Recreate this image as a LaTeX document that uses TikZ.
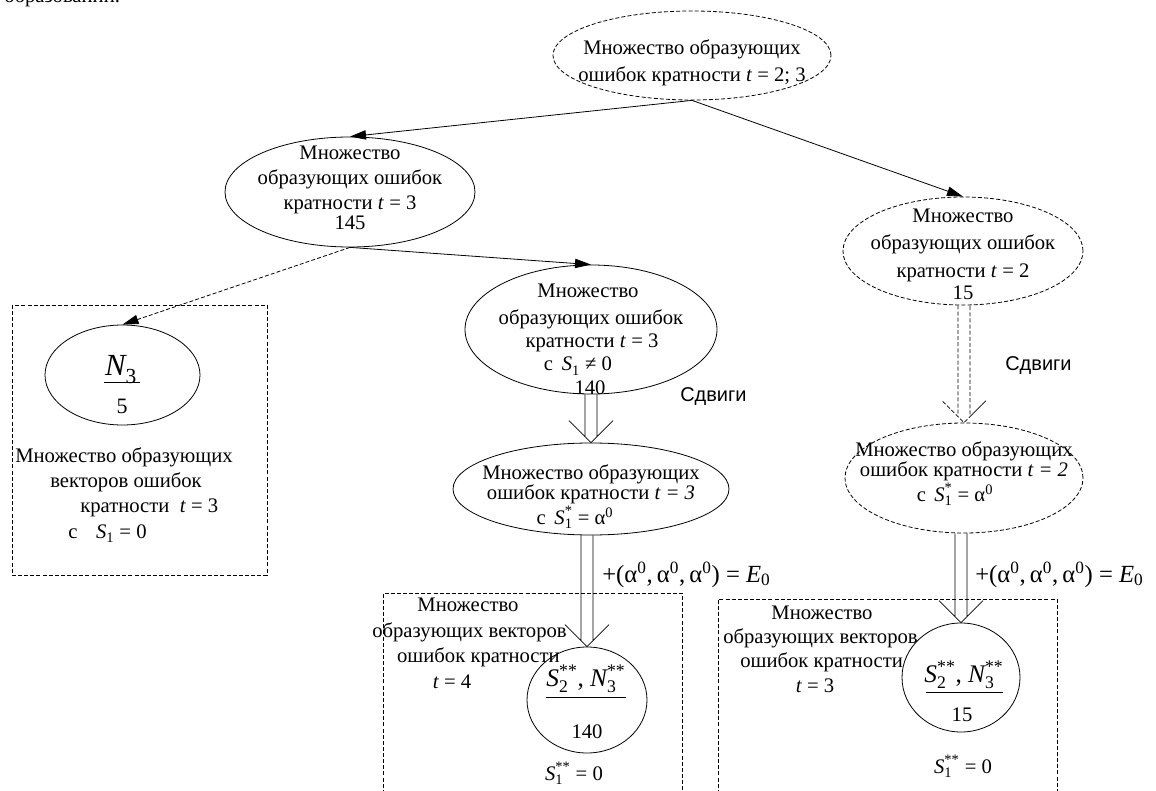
\documentclass[tikz,border=0pt]{standalone}
\usepackage{amsmath}
\usepackage{fontspec}
\setmainfont{Liberation Serif}
\setsansfont{Liberation Sans}
\usetikzlibrary{arrows.meta,calc,shapes.geometric}
\newcommand\Sym[3]{$\text{\itshape #1}_{\text{#2}}^{\text{#3}}$}
\newcommand\hollow[3][]{\draw[line width=0.6pt,#1] let \p1=(#2), \p2=(#3) in
  (\x2-4.5pt,\y1) -- (\x2-4.5pt,\y2+4.5pt) -- (\x2-16.5pt,\y2+16.5pt) -- (\x2,\y2)
  -- (\x2+16.5pt,\y2+16.5pt) -- (\x2+4.5pt,\y2+4.5pt) -- (\x2+4.5pt,\y1);}
\tikzset{
  ell/.style={ellipse, draw, inner sep=0pt, line width=0.6pt},
  dsh/.style={dash pattern=on 3pt off 1.6pt},
  txt/.style={anchor=base, inner sep=0pt, font=\fontsize{15.5}{18}\selectfont},
  txtw/.style={txt, anchor=base west},
  txte/.style={txt, anchor=base east},
  box/.style={draw, dsh, line width=0.6pt},
  conn/.style={-{Triangle[length=12pt,width=7pt]}, line width=0.6pt},
  sdv/.style={anchor=base west, inner sep=0pt, font=\sffamily\fontsize{15}{17}\selectfont},
  lbl/.style={anchor=base west, inner sep=0pt, font=\fontsize{18.5}{20}\selectfont},
  big/.style={anchor=base, inner sep=0pt, font=\fontsize{19}{21}\selectfont},
}
\begin{document}
\begin{tikzpicture}[x=0.75pt,y=-0.75pt]
\useasboundingbox (0,0) rectangle (1156,791);
% cut-off text at the top
\node[txtw] (top) at (4,3) {образований.};
% boxes
\draw[box] (12,305) rectangle (267,575);
\draw[box] (383,800) |- (682,593) -- (682,800);
\draw[box] (718,800) |- (1057,599) -- (1057,800);
% ellipses
\node[ell,dsh,minimum width=208.5pt,minimum height=66.75pt] (T) at (692,55.5) {};
\node[ell,minimum width=187.5pt,minimum height=82.5pt] (L) at (350,192) {};
\node[ell,dsh,minimum width=180pt,minimum height=81pt] (R) at (963,251) {};
\node[ell,minimum width=189pt,minimum height=96.75pt] (M) at (591,329.5) {};
\node[ell,minimum width=116.25pt,minimum height=75pt] (N) at (122.5,375) {};
\node[ell,minimum width=207pt,minimum height=69pt] (LM) at (591,489) {};
\node[ell,dsh,minimum width=178.5pt,minimum height=82.5pt] (LR) at (964,478) {};
\node[ell,minimum width=90pt,minimum height=79.5pt] (BM) at (587,700) {};
\node[ell,minimum width=88.5pt,minimum height=81.75pt] (BR) at (961,677.5) {};
% connectors
\draw[conn] (T.south) -- (L.north);
\draw[conn] (T.south) -- (R.north);
\draw[conn] (L.south) -- (M.north);
\draw[conn,dsh] (L.south) -- (N.north);
\hollow{M.south}{LM.north}
\hollow{LM.south}{BM.north}
\hollow[dsh]{R.south}{LR.north}
\hollow{LR.south}{BR.north}
% texts: top
\node[txt] (T1) at (692,55) {Множество образующих};
\node[txt] (T2) at (692,82) {ошибок кратности \textit{t} = 2; 3};
% left
\node[txt] (L1) at (350,160) {Множество};
\node[txt] (L2) at (350,185) {образующих ошибок};
\node[txt] (L3) at (350,210) {кратности \textit{t} = 3};
\node[txt] (L4) at (350,230) {145};
% right
\node[txt] (R1) at (963,223) {Множество};
\node[txt] (R2) at (963,250) {образующих ошибок};
\node[txt] (R3) at (963,278) {кратности \textit{t} = 2};
\node[txt] (R4) at (963,300) {15};
% middle
\node[txt] (M1) at (588,298) {Множество};
\node[txt] (M2) at (591,325) {образующих ошибок};
\node[txt] (M3) at (592,348) {кратности \textit{t} = 3};
\node[txt] (M4) at (578,371) {с\, \Sym{S}{1}{} ≠ 0};
\node[txt] (M5) at (590,394) {140};
% N3
\node[anchor=base,inner sep=0pt,font=\fontsize{23}{25}\selectfont] (N1) at (121,375) {\Sym{N}{3}{}};
\draw[line width=0.6pt] (104,382) -- (140,382);
\node[anchor=base,inner sep=0pt,font=\fontsize{16.5}{18}\selectfont] (N2) at (122,413) {5};
\node[txtw] (B1) at (15,462) {Множество образующих};
\node[txtw] (B2) at (50,487) {векторов ошибок};
\node[txtw] (B3) at (80,512) {кратности\hspace{0.5em}\textit{t} = 3};
\node[txtw] (B4) at (68,538) {с\hspace{0.9em}\Sym{S}{1}{} = 0};
% Sdvigi
\node[sdv] (SD1) at (680,402) {Сдвиги};
\node[sdv] (SD2) at (1005,371) {Сдвиги};
% lower middle ellipse
\node[txt] (LM1) at (591,479) {Множество образующих};
\node[txt] (LM2) at (591,499) {ошибок кратности \textit{t = 3}};
\node[txt] (LM3) at (575,524) {с\, \Sym{S}{1}{*} = α\textsuperscript{0}};
% lower right ellipse
\node[txt] (LR1) at (964,456) {Множество образующих};
\node[txt] (LR2) at (964,476) {ошибок кратности \textit{t = 2}};
\node[txt] (LR3) at (955,501) {с\hspace{0.4em}\Sym{S}{1}{*} = α\textsuperscript{0}};
% labels
\node[lbl] (E1) at (602,582) {+(α\textsuperscript{0},\,α\textsuperscript{0},\,α\textsuperscript{0}) = \textit{E}\textsubscript{0}};
\node[lbl] (E2) at (975,582) {+(α\textsuperscript{0},\,α\textsuperscript{0},\,α\textsuperscript{0}) = \textit{E}\textsubscript{0}};
% middle box texts
\node[txt] (C1) at (468,611) {Множество};
\node[txte] (C2) at (567,637) {образующих векторов};
\node[txte] (C3) at (560,662) {ошибок кратности};
\node[txt] (C4) at (452,688) {\textit{t} = 4};
\node[big] (BM1) at (586,686) {\Sym{S}{2}{**}, \Sym{N}{3}{**}};
\draw[line width=0.6pt] (546,697) -- (626,697);
\node[txt] (BM2) at (587,738) {140};
\node[txt] (BM3) at (574,780) {\Sym{S}{1}{**} = 0};
% right box texts
\node[txt] (D1) at (822,619) {Множество};
\node[txtw] (D2) at (723,643) {образующих векторов};
\node[txtw] (D3) at (740,667) {ошибок кратности};
\node[txt] (D4) at (815,692) {\textit{t} = 3};
\node[big] (BR1) at (964,682) {\Sym{S}{2}{**}, \Sym{N}{3}{**}};
\draw[line width=0.6pt] (926,692) -- (1003,692);
\node[txt] (BR2) at (962,721) {15};
\node[txt] (BR3) at (963,773) {\Sym{S}{1}{**} = 0};
\end{tikzpicture}
\end{document}
